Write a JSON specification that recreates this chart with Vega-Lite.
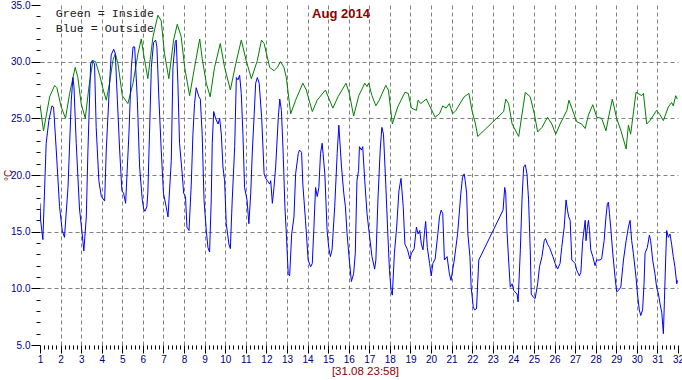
{
  "$schema": "https://vega.github.io/schema/vega-lite/v6.json",
  "width": 638,
  "height": 340,
  "autosize": "none",
  "padding": {"left": 40, "top": 5, "right": 4, "bottom": 35},
  "background": "white",
  "title": {"text": "Aug 2014", "font": "Liberation Sans", "fontSize": 13, "fontWeight": "bold", "color": "#8B0000", "anchor": "middle", "frame": "group", "offset": -21, "dx": -18},
  "datasets": {
    "temps": [
      {"s":"Inside","d":1.0,"t":26.2},{"s":"Inside","d":1.17,"t":23.9},{"s":"Inside","d":1.47,"t":26.9},{"s":"Inside","d":1.71,"t":27.9},{"s":"Inside","d":1.82,"t":27.7},{"s":"Inside","d":2.03,"t":26.0},{"s":"Inside","d":2.24,"t":25.0},{"s":"Inside","d":2.44,"t":27.2},{"s":"Inside","d":2.71,"t":29.5},{"s":"Inside","d":2.84,"t":28.6},{"s":"Inside","d":3.0,"t":26.3},{"s":"Inside","d":3.2,"t":25.0},{"s":"Inside","d":3.38,"t":27.8},{"s":"Inside","d":3.57,"t":30.1},{"s":"Inside","d":3.7,"t":30.0},{"s":"Inside","d":3.9,"t":28.8},{"s":"Inside","d":4.06,"t":27.6},{"s":"Inside","d":4.22,"t":26.6},{"s":"Inside","d":4.38,"t":28.1},{"s":"Inside","d":4.54,"t":30.1},{"s":"Inside","d":4.66,"t":30.7},{"s":"Inside","d":4.79,"t":29.8},{"s":"Inside","d":5.0,"t":27.0},{"s":"Inside","d":5.27,"t":26.3},{"s":"Inside","d":5.52,"t":28.1},{"s":"Inside","d":5.76,"t":30.7},{"s":"Inside","d":5.92,"t":32.0},{"s":"Inside","d":6.04,"t":30.6},
      {"s":"Inside","d":6.24,"t":28.5},{"s":"Inside","d":6.49,"t":32.2},{"s":"Inside","d":6.73,"t":34.1},{"s":"Inside","d":6.89,"t":33.6},{"s":"Inside","d":7.05,"t":30.7},{"s":"Inside","d":7.26,"t":28.5},{"s":"Inside","d":7.49,"t":31.9},{"s":"Inside","d":7.67,"t":33.3},{"s":"Inside","d":7.86,"t":32.2},{"s":"Inside","d":8.03,"t":29.5},{"s":"Inside","d":8.27,"t":27.0},{"s":"Inside","d":8.51,"t":29.5},{"s":"Inside","d":8.76,"t":32.0},{"s":"Inside","d":8.88,"t":30.3},{"s":"Inside","d":9.08,"t":28.1},{"s":"Inside","d":9.27,"t":26.9},{"s":"Inside","d":9.48,"t":29.5},{"s":"Inside","d":9.76,"t":31.6},{"s":"Inside","d":9.97,"t":29.5},{"s":"Inside","d":10.25,"t":27.5},{"s":"Inside","d":10.51,"t":29.8},{"s":"Inside","d":10.78,"t":31.9},{"s":"Inside","d":11.02,"t":30.1},{"s":"Inside","d":11.27,"t":28.5},
      {"s":"Inside","d":11.56,"t":30.1},{"s":"Inside","d":11.76,"t":31.9},{"s":"Inside","d":11.89,"t":31.6},{"s":"Inside","d":12.16,"t":29.5},{"s":"Inside","d":12.37,"t":29.2},{"s":"Inside","d":12.53,"t":29.5},{"s":"Inside","d":12.69,"t":30.0},{"s":"Inside","d":12.85,"t":29.5},{"s":"Inside","d":12.97,"t":28.6},{"s":"Inside","d":13.18,"t":25.4},{"s":"Inside","d":13.42,"t":26.6},{"s":"Inside","d":13.77,"t":28.1},{"s":"Inside","d":13.94,"t":27.5},{"s":"Inside","d":14.23,"t":25.6},{"s":"Inside","d":14.47,"t":26.6},{"s":"Inside","d":14.87,"t":27.5},{"s":"Inside","d":15.23,"t":25.9},{"s":"Inside","d":15.48,"t":26.9},{"s":"Inside","d":15.87,"t":28.1},{"s":"Inside","d":16.03,"t":27.2},{"s":"Inside","d":16.24,"t":25.2},
      {"s":"Inside","d":16.49,"t":27.0},{"s":"Inside","d":16.78,"t":28.1},{"s":"Inside","d":16.89,"t":27.8},{"s":"Inside","d":16.97,"t":28.1},{"s":"Inside","d":17.13,"t":27.0},{"s":"Inside","d":17.32,"t":26.1},{"s":"Inside","d":17.48,"t":26.6},{"s":"Inside","d":17.8,"t":27.9},{"s":"Inside","d":17.93,"t":27.5},{"s":"Inside","d":18.12,"t":24.5},{"s":"Inside","d":18.38,"t":26.0},{"s":"Inside","d":18.73,"t":27.3},{"s":"Inside","d":18.89,"t":27.2},{"s":"Inside","d":19.05,"t":25.9},{"s":"Inside","d":19.29,"t":25.7},{"s":"Inside","d":19.37,"t":26.6},{"s":"Inside","d":19.5,"t":26.3},{"s":"Inside","d":19.77,"t":26.7},{"s":"Inside","d":19.93,"t":26.1},{"s":"Inside","d":20.2,"t":25.1},{"s":"Inside","d":20.41,"t":25.4},{"s":"Inside","d":20.57,"t":26.1},{"s":"Inside","d":20.73,"t":25.9},{"s":"Inside","d":20.89,"t":26.3},{"s":"Inside","d":21.05,"t":25.4},{"s":"Inside","d":21.21,"t":25.7},{"s":"Inside","d":21.61,"t":26.9},
      {"s":"Inside","d":21.84,"t":27.2},{"s":"Inside","d":22.0,"t":25.6},{"s":"Inside","d":22.16,"t":24.5},{"s":"Inside","d":22.27,"t":23.4},{"s":"Inside","d":23.53,"t":25.6},{"s":"Inside","d":23.63,"t":26.7},{"s":"Inside","d":23.77,"t":26.3},{"s":"Inside","d":23.94,"t":24.5},{"s":"Inside","d":24.26,"t":23.4},{"s":"Inside","d":24.58,"t":27.3},{"s":"Inside","d":24.82,"t":26.9},{"s":"Inside","d":25.02,"t":25.4},{"s":"Inside","d":25.18,"t":23.8},{"s":"Inside","d":25.39,"t":24.2},{"s":"Inside","d":25.66,"t":25.1},{"s":"Inside","d":25.87,"t":24.5},{"s":"Inside","d":26.06,"t":23.6},{"s":"Inside","d":26.27,"t":24.5},{"s":"Inside","d":26.6,"t":25.7},{"s":"Inside","d":26.7,"t":26.6},
      {"s":"Inside","d":26.84,"t":25.9},{"s":"Inside","d":27.08,"t":24.7},{"s":"Inside","d":27.32,"t":24.5},{"s":"Inside","d":27.49,"t":24.1},{"s":"Inside","d":27.65,"t":25.3},{"s":"Inside","d":27.86,"t":26.2},{"s":"Inside","d":28.05,"t":25.1},{"s":"Inside","d":28.29,"t":25.0},{"s":"Inside","d":28.5,"t":23.9},{"s":"Inside","d":28.65,"t":25.3},{"s":"Inside","d":28.81,"t":26.7},{"s":"Inside","d":29.02,"t":25.0},{"s":"Inside","d":29.23,"t":23.9},{"s":"Inside","d":29.48,"t":22.3},{"s":"Inside","d":29.59,"t":24.4},{"s":"Inside","d":29.7,"t":23.6},{"s":"Inside","d":29.96,"t":27.3},{"s":"Inside","d":30.24,"t":27.0},{"s":"Inside","d":30.32,"t":27.2},{"s":"Inside","d":30.48,"t":24.5},{"s":"Inside","d":30.64,"t":24.8},{"s":"Inside","d":30.96,"t":25.7},{"s":"Inside","d":31.13,"t":25.3},{"s":"Inside","d":31.29,"t":24.8},{"s":"Inside","d":31.53,"t":26.0},{"s":"Inside","d":31.69,"t":26.4},{"s":"Inside","d":31.77,"t":26.1},{"s":"Inside","d":31.89,"t":27.0},{"s":"Inside","d":31.97,"t":26.7},

      {"s":"Outside","d":1.0,"t":17.5},{"s":"Outside","d":1.03,"t":16.0},{"s":"Outside","d":1.14,"t":14.3},{"s":"Outside","d":1.3,"t":22.8},{"s":"Outside","d":1.43,"t":24.8},{"s":"Outside","d":1.58,"t":26.1},{"s":"Outside","d":1.66,"t":26.0},{"s":"Outside","d":1.79,"t":22.2},{"s":"Outside","d":1.95,"t":17.2},{"s":"Outside","d":2.08,"t":15.1},{"s":"Outside","d":2.19,"t":14.5},{"s":"Outside","d":2.36,"t":18.9},{"s":"Outside","d":2.52,"t":26.6},{"s":"Outside","d":2.6,"t":28.6},{"s":"Outside","d":2.65,"t":27.8},{"s":"Outside","d":2.76,"t":22.8},{"s":"Outside","d":2.92,"t":17.0},{"s":"Outside","d":3.05,"t":14.8},{"s":"Outside","d":3.13,"t":13.3},{"s":"Outside","d":3.25,"t":16.3},{"s":"Outside","d":3.33,"t":22.2},{"s":"Outside","d":3.46,"t":29.8},{"s":"Outside","d":3.54,"t":30.1},{"s":"Outside","d":3.65,"t":29.8},{"s":"Outside","d":3.73,"t":24.2},{"s":"Outside","d":3.86,"t":19.5},{"s":"Outside","d":3.98,"t":18.1},{"s":"Outside","d":4.14,"t":17.7},{"s":"Outside","d":4.22,"t":22.2},{"s":"Outside","d":4.38,"t":28.1},{"s":"Outside","d":4.46,"t":30.6},{"s":"Outside","d":4.58,"t":31.1},{"s":"Outside","d":4.66,"t":30.7},{"s":"Outside","d":4.76,"t":26.6},{"s":"Outside","d":4.87,"t":22.2},{"s":"Outside","d":4.98,"t":18.6},{"s":"Outside","d":5.06,"t":18.4},{"s":"Outside","d":5.16,"t":17.5},{"s":"Outside","d":5.32,"t":23.6},{"s":"Outside","d":5.44,"t":29.5},{"s":"Outside","d":5.52,"t":31.3},{"s":"Outside","d":5.6,"t":31.3},{"s":"Outside","d":5.73,"t":26.6},{"s":"Outside","d":5.84,"t":20.7},{"s":"Outside","d":5.97,"t":17.8},
      {"s":"Outside","d":6.04,"t":17.0},{"s":"Outside","d":6.1,"t":16.8},{"s":"Outside","d":6.19,"t":17.2},{"s":"Outside","d":6.24,"t":18.4},{"s":"Outside","d":6.32,"t":23.6},{"s":"Outside","d":6.41,"t":29.5},{"s":"Outside","d":6.52,"t":31.7},{"s":"Outside","d":6.62,"t":31.9},{"s":"Outside","d":6.68,"t":31.3},{"s":"Outside","d":6.78,"t":26.6},{"s":"Outside","d":6.89,"t":22.2},{"s":"Outside","d":7.0,"t":18.4},{"s":"Outside","d":7.13,"t":17.2},{"s":"Outside","d":7.22,"t":16.3},{"s":"Outside","d":7.38,"t":21.3},{"s":"Outside","d":7.46,"t":29.5},{"s":"Outside","d":7.57,"t":31.7},{"s":"Outside","d":7.62,"t":31.9},{"s":"Outside","d":7.7,"t":28.1},{"s":"Outside","d":7.78,"t":22.8},{"s":"Outside","d":7.91,"t":20.1},{"s":"Outside","d":7.98,"t":18.4},{"s":"Outside","d":8.07,"t":18.1},{"s":"Outside","d":8.14,"t":15.4},{"s":"Outside","d":8.24,"t":15.1},{"s":"Outside","d":8.35,"t":19.2},{"s":"Outside","d":8.43,"t":23.6},{"s":"Outside","d":8.51,"t":26.3},{"s":"Outside","d":8.59,"t":27.7},{"s":"Outside","d":8.72,"t":26.9},{"s":"Outside","d":8.79,"t":26.7},{"s":"Outside","d":8.88,"t":23.6},{"s":"Outside","d":8.97,"t":17.8},{"s":"Outside","d":9.08,"t":15.1},{"s":"Outside","d":9.16,"t":13.6},{"s":"Outside","d":9.24,"t":13.2},{"s":"Outside","d":9.32,"t":17.8},{"s":"Outside","d":9.37,"t":22.8},{"s":"Outside","d":9.44,"t":25.6},{"s":"Outside","d":9.53,"t":25.0},{"s":"Outside","d":9.65,"t":24.5},{"s":"Outside","d":9.73,"t":25.0},{"s":"Outside","d":9.81,"t":23.6},{"s":"Outside","d":9.89,"t":20.7},{"s":"Outside","d":9.97,"t":19.5},{"s":"Outside","d":10.05,"t":15.7},{"s":"Outside","d":10.18,"t":13.9},{"s":"Outside","d":10.25,"t":13.5},{"s":"Outside","d":10.34,"t":17.8},{"s":"Outside","d":10.46,"t":22.5},{"s":"Outside","d":10.54,"t":28.6},{"s":"Outside","d":10.62,"t":28.4},{"s":"Outside","d":10.7,"t":28.8},{"s":"Outside","d":10.78,"t":27.2},{"s":"Outside","d":10.86,"t":23.6},{"s":"Outside","d":10.94,"t":18.9},{"s":"Outside","d":11.06,"t":17.8},{"s":"Outside","d":11.15,"t":15.7},
      {"s":"Outside","d":11.24,"t":18.4},{"s":"Outside","d":11.32,"t":22.2},{"s":"Outside","d":11.4,"t":25.1},{"s":"Outside","d":11.48,"t":28.1},{"s":"Outside","d":11.56,"t":28.6},{"s":"Outside","d":11.65,"t":28.1},{"s":"Outside","d":11.77,"t":25.1},{"s":"Outside","d":11.89,"t":20.1},{"s":"Outside","d":11.97,"t":19.7},{"s":"Outside","d":12.05,"t":19.5},{"s":"Outside","d":12.16,"t":19.2},{"s":"Outside","d":12.21,"t":19.5},{"s":"Outside","d":12.29,"t":17.5},{"s":"Outside","d":12.37,"t":18.9},{"s":"Outside","d":12.45,"t":20.7},{"s":"Outside","d":12.58,"t":25.1},{"s":"Outside","d":12.65,"t":26.7},{"s":"Outside","d":12.73,"t":25.7},{"s":"Outside","d":12.81,"t":22.2},{"s":"Outside","d":12.9,"t":17.2},{"s":"Outside","d":12.97,"t":14.8},{"s":"Outside","d":13.06,"t":11.3},{"s":"Outside","d":13.13,"t":11.1},{"s":"Outside","d":13.23,"t":14.8},{"s":"Outside","d":13.34,"t":16.3},{"s":"Outside","d":13.42,"t":20.1},{"s":"Outside","d":13.55,"t":21.9},{"s":"Outside","d":13.61,"t":22.2},{"s":"Outside","d":13.71,"t":22.0},{"s":"Outside","d":13.77,"t":19.2},{"s":"Outside","d":13.9,"t":16.0},{"s":"Outside","d":14.03,"t":12.5},{"s":"Outside","d":14.15,"t":11.9},{"s":"Outside","d":14.23,"t":12.2},{"s":"Outside","d":14.31,"t":15.4},{"s":"Outside","d":14.39,"t":18.9},{"s":"Outside","d":14.47,"t":18.1},{"s":"Outside","d":14.55,"t":18.9},{"s":"Outside","d":14.63,"t":21.9},{"s":"Outside","d":14.71,"t":22.8},{"s":"Outside","d":14.84,"t":20.1},{"s":"Outside","d":14.95,"t":15.1},{"s":"Outside","d":15.03,"t":13.6},{"s":"Outside","d":15.11,"t":12.8},{"s":"Outside","d":15.19,"t":13.4},{"s":"Outside","d":15.32,"t":17.2},{"s":"Outside","d":15.44,"t":21.9},{"s":"Outside","d":15.52,"t":24.4},{"s":"Outside","d":15.65,"t":20.7},{"s":"Outside","d":15.76,"t":18.4},{"s":"Outside","d":15.84,"t":17.2},{"s":"Outside","d":15.92,"t":14.8},{"s":"Outside","d":16.03,"t":12.5},{"s":"Outside","d":16.13,"t":10.6},{"s":"Outside","d":16.24,"t":11.3},{"s":"Outside","d":16.32,"t":13.1},{"s":"Outside","d":16.4,"t":19.5},{"s":"Outside","d":16.48,"t":20.4},
      {"s":"Outside","d":16.52,"t":22.5},{"s":"Outside","d":16.62,"t":22.2},{"s":"Outside","d":16.68,"t":22.5},{"s":"Outside","d":16.78,"t":19.5},{"s":"Outside","d":16.89,"t":16.6},{"s":"Outside","d":17.0,"t":14.8},{"s":"Outside","d":17.13,"t":12.8},{"s":"Outside","d":17.26,"t":11.7},{"s":"Outside","d":17.32,"t":12.5},{"s":"Outside","d":17.42,"t":17.8},{"s":"Outside","d":17.53,"t":22.2},{"s":"Outside","d":17.61,"t":24.2},{"s":"Outside","d":17.69,"t":23.6},{"s":"Outside","d":17.8,"t":19.2},{"s":"Outside","d":17.9,"t":14.8},{"s":"Outside","d":17.98,"t":11.6},{"s":"Outside","d":18.06,"t":9.8},{"s":"Outside","d":18.12,"t":9.4},{"s":"Outside","d":18.22,"t":13.1},{"s":"Outside","d":18.33,"t":15.4},{"s":"Outside","d":18.44,"t":18.6},{"s":"Outside","d":18.54,"t":19.7},{"s":"Outside","d":18.65,"t":17.2},{"s":"Outside","d":18.73,"t":13.9},{"s":"Outside","d":18.86,"t":13.4},{"s":"Outside","d":18.97,"t":12.6},{"s":"Outside","d":19.05,"t":13.1},{"s":"Outside","d":19.18,"t":13.5},{"s":"Outside","d":19.29,"t":15.4},{"s":"Outside","d":19.37,"t":14.8},{"s":"Outside","d":19.45,"t":15.1},{"s":"Outside","d":19.53,"t":13.9},{"s":"Outside","d":19.61,"t":13.4},{"s":"Outside","d":19.69,"t":15.1},{"s":"Outside","d":19.74,"t":15.9},{"s":"Outside","d":19.82,"t":13.6},{"s":"Outside","d":19.93,"t":12.2},{"s":"Outside","d":20.01,"t":11.1},{"s":"Outside","d":20.09,"t":12.2},{"s":"Outside","d":20.2,"t":12.6},{"s":"Outside","d":20.33,"t":14.8},{"s":"Outside","d":20.41,"t":16.3},{"s":"Outside","d":20.49,"t":16.9},{"s":"Outside","d":20.57,"t":16.6},{"s":"Outside","d":20.65,"t":12.5},{"s":"Outside","d":20.78,"t":12.8},{"s":"Outside","d":20.89,"t":11.3},{"s":"Outside","d":20.97,"t":10.7},{"s":"Outside","d":21.13,"t":12.5},{"s":"Outside","d":21.29,"t":14.8},{"s":"Outside","d":21.45,"t":18.4},{"s":"Outside","d":21.53,"t":19.8},{"s":"Outside","d":21.61,"t":20.1},
      {"s":"Outside","d":21.66,"t":19.5},{"s":"Outside","d":21.73,"t":18.4},{"s":"Outside","d":21.79,"t":14.8},{"s":"Outside","d":21.89,"t":12.8},{"s":"Outside","d":21.95,"t":10.1},{"s":"Outside","d":22.05,"t":8.4},{"s":"Outside","d":22.11,"t":8.1},{"s":"Outside","d":22.21,"t":8.2},{"s":"Outside","d":22.32,"t":12.5},{"s":"Outside","d":23.5,"t":16.9},{"s":"Outside","d":23.58,"t":18.9},{"s":"Outside","d":23.63,"t":18.4},{"s":"Outside","d":23.69,"t":15.1},{"s":"Outside","d":23.77,"t":12.5},{"s":"Outside","d":23.85,"t":10.1},{"s":"Outside","d":23.94,"t":10.4},{"s":"Outside","d":24.02,"t":9.8},{"s":"Outside","d":24.18,"t":9.5},{"s":"Outside","d":24.23,"t":8.8},{"s":"Outside","d":24.34,"t":13.4},{"s":"Outside","d":24.42,"t":17.8},{"s":"Outside","d":24.5,"t":20.7},{"s":"Outside","d":24.58,"t":20.9},{"s":"Outside","d":24.66,"t":20.1},{"s":"Outside","d":24.74,"t":17.8},{"s":"Outside","d":24.82,"t":13.4},{"s":"Outside","d":24.87,"t":9.5},{"s":"Outside","d":24.98,"t":9.2},{"s":"Outside","d":25.06,"t":9.1},{"s":"Outside","d":25.18,"t":10.4},{"s":"Outside","d":25.27,"t":11.9},{"s":"Outside","d":25.39,"t":12.8},{"s":"Outside","d":25.5,"t":14.2},{"s":"Outside","d":25.56,"t":14.4},{"s":"Outside","d":25.66,"t":13.9},{"s":"Outside","d":25.76,"t":13.6},{"s":"Outside","d":25.92,"t":12.8},{"s":"Outside","d":26.03,"t":12.2},{"s":"Outside","d":26.15,"t":11.7},{"s":"Outside","d":26.27,"t":12.2},{"s":"Outside","d":26.35,"t":13.6},{"s":"Outside","d":26.47,"t":15.4},{"s":"Outside","d":26.56,"t":17.8},{"s":"Outside","d":26.63,"t":16.9},{"s":"Outside","d":26.69,"t":16.3},
      {"s":"Outside","d":26.76,"t":16.0},{"s":"Outside","d":26.84,"t":12.5},{"s":"Outside","d":27.0,"t":12.2},{"s":"Outside","d":27.08,"t":11.6},{"s":"Outside","d":27.21,"t":11.1},{"s":"Outside","d":27.28,"t":11.4},{"s":"Outside","d":27.37,"t":14.2},{"s":"Outside","d":27.49,"t":16.0},{"s":"Outside","d":27.53,"t":14.2},{"s":"Outside","d":27.6,"t":15.4},{"s":"Outside","d":27.65,"t":16.0},{"s":"Outside","d":27.7,"t":15.1},{"s":"Outside","d":27.76,"t":13.4},{"s":"Outside","d":27.86,"t":12.8},{"s":"Outside","d":27.97,"t":12.0},{"s":"Outside","d":28.05,"t":12.5},{"s":"Outside","d":28.21,"t":12.5},{"s":"Outside","d":28.29,"t":12.6},{"s":"Outside","d":28.41,"t":14.2},{"s":"Outside","d":28.5,"t":16.3},{"s":"Outside","d":28.57,"t":17.5},{"s":"Outside","d":28.62,"t":17.6},{"s":"Outside","d":28.67,"t":16.6},{"s":"Outside","d":28.73,"t":15.4},{"s":"Outside","d":28.83,"t":13.1},{"s":"Outside","d":28.94,"t":11.0},{"s":"Outside","d":29.02,"t":9.7},{"s":"Outside","d":29.1,"t":9.8},{"s":"Outside","d":29.22,"t":10.1},{"s":"Outside","d":29.35,"t":12.5},{"s":"Outside","d":29.48,"t":14.2},{"s":"Outside","d":29.59,"t":15.4},{"s":"Outside","d":29.67,"t":16.0},{"s":"Outside","d":29.75,"t":14.2},{"s":"Outside","d":29.83,"t":13.1},{"s":"Outside","d":29.96,"t":11.0},{"s":"Outside","d":30.03,"t":9.5},{"s":"Outside","d":30.12,"t":8.1},{"s":"Outside","d":30.19,"t":7.6},{"s":"Outside","d":30.28,"t":8.1},{"s":"Outside","d":30.35,"t":10.4},{"s":"Outside","d":30.4,"t":13.1},{"s":"Outside","d":30.51,"t":13.6},{"s":"Outside","d":30.61,"t":14.7},{"s":"Outside","d":30.67,"t":14.2},{"s":"Outside","d":30.77,"t":12.5},{"s":"Outside","d":30.88,"t":11.3},{"s":"Outside","d":30.96,"t":10.1},{"s":"Outside","d":31.05,"t":9.5},{"s":"Outside","d":31.13,"t":8.6},{"s":"Outside","d":31.21,"t":7.9},{"s":"Outside","d":31.29,"t":6.0},{"s":"Outside","d":31.34,"t":8.9},{"s":"Outside","d":31.4,"t":12.5},{"s":"Outside","d":31.45,"t":15.1},{"s":"Outside","d":31.53,"t":14.5},{"s":"Outside","d":31.61,"t":14.8},{"s":"Outside","d":31.69,"t":13.9},{"s":"Outside","d":31.77,"t":12.8},{"s":"Outside","d":31.85,"t":11.9},{"s":"Outside","d":31.94,"t":10.4},{"s":"Outside","d":31.98,"t":10.7}
    ]
  },
  "layer": [
    {
      "data": {"name": "temps"},
      "mark": {"type": "line", "strokeWidth": 1, "clip": true},
      "encoding": {
        "x": {
          "field": "d", "type": "quantitative",
          "scale": {"domain": [1, 32], "nice": false, "zero": false},
          "title": "[31.08 23:58]",
          "axis": {
            "tickCount": 155,
            "labelExpr": "abs(datum.value - round(datum.value)) < 0.01 ? format(datum.value, 'd') : ''",
            "tickSize": {"condition": {"test": "abs(datum.value - round(datum.value)) < 0.01", "value": 8}, "value": 4},
            "tickColor": "#000000",
            "domain": false,
            "grid": true,
            "gridColor": "#808080",
            "gridDash": [4, 3],
            "gridOpacity": {"condition": {"test": "abs(datum.value - round(datum.value)) < 0.01 && datum.value > 1.5 && datum.value < 31.5", "value": 1}, "value": 0},
            "labelFont": "Liberation Sans",
            "labelFontSize": 10,
            "labelColor": "#000080",
            "labelPadding": 1,
            "labelOverlap": false,
            "labelFlush": false,
            "labelBound": false,
            "titleColor": "#8B0000",
            "titleFont": "Liberation Sans",
            "titleFontSize": 11.5,
            "titleFontWeight": "normal",
            "titlePadding": 1,
            "titleX": 325
          }
        },
        "y": {
          "field": "t", "type": "quantitative",
          "scale": {"domain": [5, 35], "nice": false, "zero": false},
          "title": "°C",
          "axis": {
            "values": [5,6,7,8,9,10,11,12,13,14,15,16,17,18,19,20,21,22,23,24,25,26,27,28,29,30,31,32,33,34,35],
            "labelExpr": "datum.value % 5 == 0 ? format(datum.value, '.1f') : ''",
            "tickSize": {"condition": {"test": "datum.value % 5 == 0", "value": 9}, "value": 4},
            "tickColor": "#000000",
            "domain": false,
            "grid": true,
            "gridColor": "#808080",
            "gridDash": [4, 3],
            "gridOpacity": {"condition": {"test": "datum.value % 5 == 0 && datum.value > 5 && datum.value < 35", "value": 1}, "value": 0},
            "labelFont": "Liberation Sans",
            "labelFontSize": 10,
            "labelColor": "#000080",
            "labelPadding": 1,
            "labelOverlap": false,
            "labelFlush": false,
            "labelBound": false,
            "titleColor": "#8B0000",
            "titleFont": "Liberation Sans",
            "titleFontSize": 10,
            "titleFontWeight": "normal",
            "titleX": -27,
            "titleY": 170
          }
        },
        "color": {
          "field": "s", "type": "nominal",
          "scale": {"domain": ["Inside", "Outside"], "range": ["#008000", "#0000FF"]},
          "legend": {
            "orient": "none",
            "legendX": 4,
            "legendY": 2,
            "title": null,
            "padding": 0,
            "rowPadding": 2,
            "symbolOpacity": 0,
            "symbolSize": 0,
            "symbolStrokeWidth": 0,
            "labelOffset": 0,
            "labelFont": "Liberation Mono",
            "labelFontSize": 11.7,
            "labelColor": "#202020",
            "labelExpr": "datum.label == 'Inside' ? 'Green = Inside' : 'Blue = Outside'"
          }
        }
      }
    },
    {
      "mark": {"type": "rule", "color": "#008000", "strokeDash": [5, 4], "strokeWidth": 2},
      "encoding": {"x": {"datum": 32}}
    }
  ],
  "config": {"view": {"stroke": null}, "font": "Liberation Sans"}
}
